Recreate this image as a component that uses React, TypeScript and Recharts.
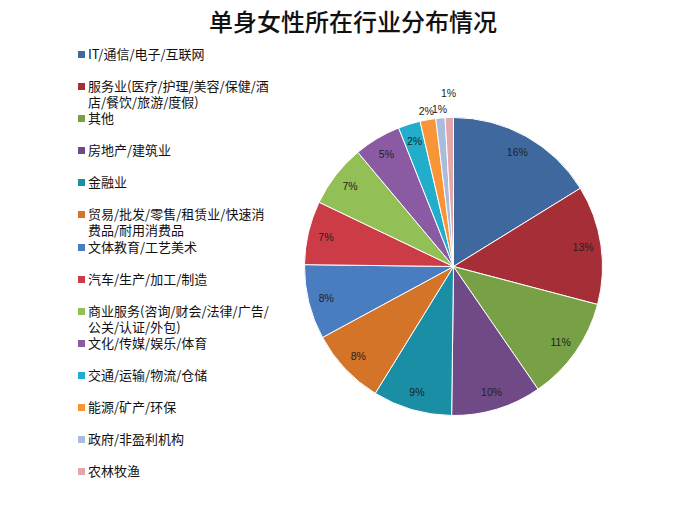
import { PieChart, Pie, Cell } from 'recharts';

const categories = [
  'IT/通信/电子/互联网',
  '服务业(医疗/护理/美容/保健/酒店/餐饮/旅游/度假)',
  '其他',
  '房地产/建筑业',
  '金融业',
  '贸易/批发/零售/租赁业/快速消费品/耐用消费品',
  '文体教育/工艺美术',
  '汽车/生产/加工/制造',
  '商业服务(咨询/财会/法律/广告/公关/认证/外包)',
  '文化/传媒/娱乐/体育',
  '交通/运输/物流/仓储',
  '能源/矿产/环保',
  '政府/非盈利机构',
  '农林牧渔',
];

// share of respondents
const shares = [16.2, 12.9, 11.3, 9.8, 8.6, 8.3, 8.1, 6.9, 6.8, 5.1, 2.4, 1.7, 1.0, 0.9];

const colors = [
  '#3E689E',
  '#A62F37',
  '#78A044',
  '#6F4A87',
  '#1A8EA5',
  '#D47428',
  '#497DC0',
  '#CC3C46',
  '#93C056',
  '#8A5BA3',
  '#22AECB',
  '#F99539',
  '#A9BCDC',
  '#E3A6A9',
];

const data = categories.map((name, i) => ({ name, value: shares[i] }));

const RAD = Math.PI / 180;
const CJK = '"Noto Sans CJK SC", "Noto Sans", sans-serif';

// eslint-disable-next-line @typescript-eslint/no-explicit-any
const renderLabel = (p: any) => {
  const { cx, cy, midAngle, outerRadius, percent, index } = p;
  let r = outerRadius - 18;
  if (percent < 0.02) r = index === data.length - 1 ? outerRadius + 25 : outerRadius + 9;
  const x = cx + r * Math.cos(-midAngle * RAD);
  const y = cy + r * Math.sin(-midAngle * RAD);
  return (
    <text
      x={x}
      y={y}
      fill="#222"
      fontSize={10.5}
      fontFamily='"Liberation Sans", Arial, sans-serif'
      textAnchor="middle"
      dominantBaseline="central"
    >
      {`${Math.round(percent * 100)}%`}
    </text>
  );
};

function LegendBox() {
  return (
    <div
      style={{
        position: 'absolute',
        left: 78,
        top: 46,
        width: 200,
        fontFamily: CJK,
        fontSize: 13,
        color: '#111',
      }}
    >
      {categories.map((name, i) => (
        <div key={name} style={{ height: 32.1, display: 'flex', alignItems: 'flex-start' }}>
          <span
            style={{
              width: 7,
              height: 7,
              marginTop: 5,
              marginRight: 3,
              flex: 'none',
              background: colors[i],
            }}
          />
          <span style={{ width: 186, lineHeight: '16px' }}>{name}</span>
        </div>
      ))}
    </div>
  );
}

export default function App() {
  return (
    <div style={{ position: 'absolute', left: 0, top: 0, width: 698, height: 519, background: '#fff' }}>
      <div
        style={{
          position: 'absolute',
          left: 0,
          top: 6,
          width: 706,
          textAlign: 'center',
          fontFamily: CJK,
          fontSize: 24,
          fontWeight: 500,
          lineHeight: '30px',
          color: '#111',
        }}
      >
        单身女性所在行业分布情况
      </div>
      <PieChart width={698} height={519} margin={{ top: 0, right: 0, bottom: 0, left: 0 }}>
        <Pie
          data={data}
          dataKey="value"
          nameKey="name"
          cx={453.5}
          cy={266.5}
          outerRadius={149}
          startAngle={90}
          endAngle={-270}
          stroke="#fff"
          strokeWidth={1}
          label={renderLabel}
          labelLine={false}
          isAnimationActive={false}
        >
          {data.map((d, i) => (
            <Cell key={d.name} fill={colors[i]} />
          ))}
        </Pie>
      </PieChart>
      <LegendBox />
    </div>
  );
}
